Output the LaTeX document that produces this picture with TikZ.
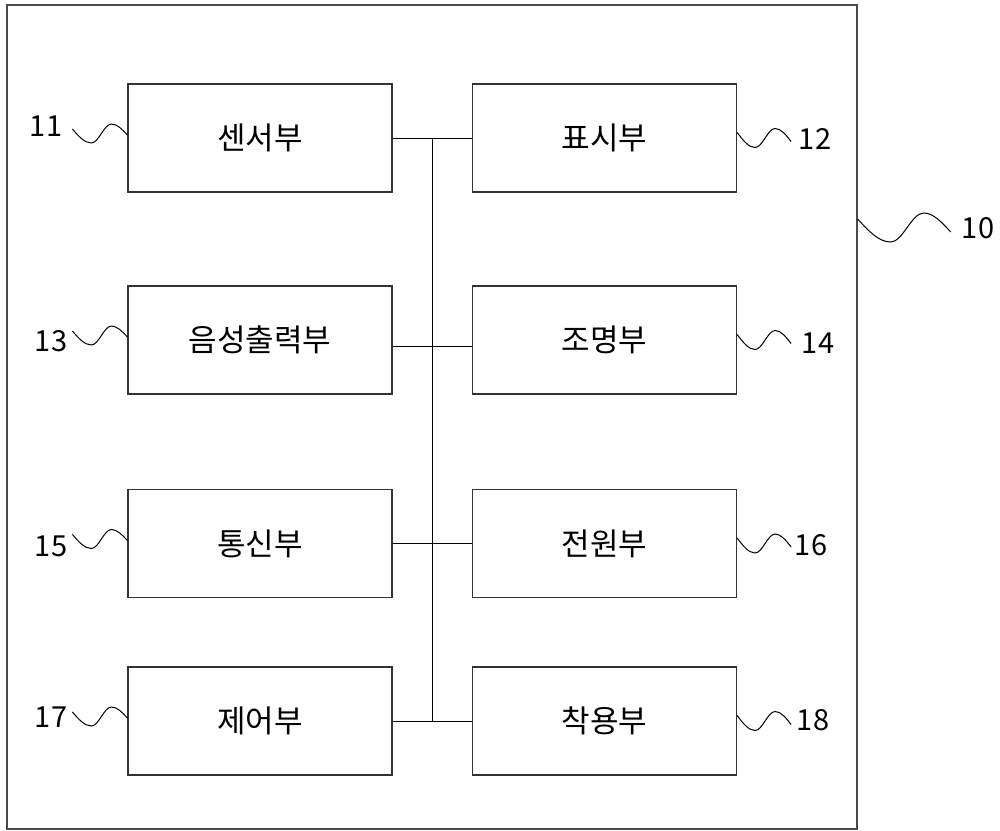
\documentclass[tikz,border=0pt]{standalone}
\usepackage{fontspec}
\setmainfont{Noto Sans CJK KR}
\usetikzlibrary{calc}
\definecolor{linec}{HTML}{333333}
\definecolor{framec}{HTML}{4A4A4A}
\tikzset{
  unit/.style={draw=linec, line width=1.2pt, minimum width=264pt, minimum height=108pt, inner sep=0pt, font=\fontsize{31}{34}\selectfont},
  refnum/.style={inner sep=0pt, font=\fontsize{29}{32}\selectfont},
  bus/.style={draw=black, line width=1pt},
  wave/.style={draw=black, line width=1pt},
}
\begin{document}
\begin{tikzpicture}[x=1pt,y=-1pt]
\useasboundingbox (0,0) rectangle (1000,830);
\node[draw=framec, line width=1.3pt, minimum width=850pt, minimum height=824pt, inner sep=0pt] (sys) at (432,417) {};
% units
\node[unit] (b11) at (260,138) {센서부};
\node[unit] (b12) at (604.5,138) {표시부};
\node[unit] (b13) at (260,340) {음성출력부};
\node[unit] (b14) at (604.5,340) {조명부};
\node[unit] (b15) at (260,543.5) {통신부};
\node[unit] (b16) at (604.5,543.5) {전원부};
\node[unit] (b17) at (260,721) {제어부};
\node[unit] (b18) at (604.5,721) {착용부};
% reference numerals
\node[refnum] (n11) at (46,126) {11};
\node[refnum] (n13) at (51,341) {13};
\node[refnum] (n15) at (51,546) {15};
\node[refnum] (n17) at (51,717) {17};
\node[refnum] (n12) at (815,139) {12};
\node[refnum] (n14) at (818,343) {14};
\node[refnum] (n16) at (811,545) {16};
\node[refnum] (n18) at (813,720) {18};
\node[refnum] (n10) at (978,228) {10};
% bus
\coordinate (bt) at (432,138);
\coordinate (bb) at (432,721);
\draw[bus] (b11.east) -- (b12.west);
\draw[bus] ($(b13.east)+(0,6)$) -- ($(b14.west)+(0,6)$);
\draw[bus] (b15.east) -- (b16.west);
\draw[bus] (b17.east) -- (b18.west);
\draw[bus] (bt) -- (bb);
% leader waves, left
\foreach \b in {b11,b13,b15,b17}{
  \draw[wave] ($(\b.west)+(-55,-9)$) sin ++(19,14) cos ++(10,-9.5) sin ++(10,-9.5) cos ++(16,11);
}
% leader waves, right
\foreach \b in {b12,b14,b16,b18}{
  \draw[wave] ($(\b.east)+(0,-5.5)$) sin ++(18,15) cos ++(10,-9.5) sin ++(10,-9.5) cos ++(16,13);
}
% leader wave for 10
\draw[wave] (sys.east |- 0,219) sin ++(33,23) cos ++(16.5,-14.5) sin ++(16.5,-14.5) cos ++(27,19);
\end{tikzpicture}
\end{document}
